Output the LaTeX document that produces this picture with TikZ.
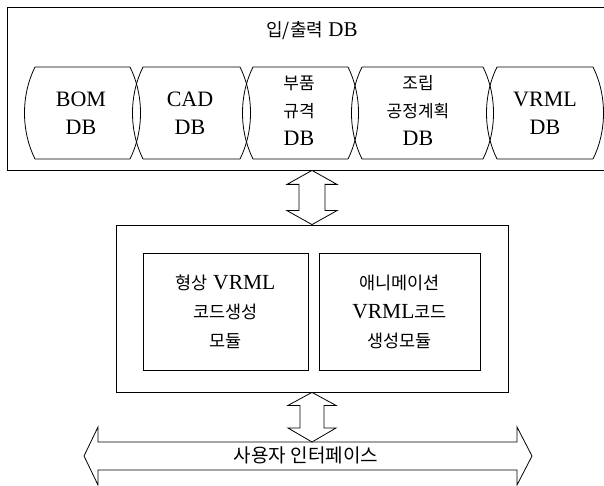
\documentclass[tikz,border=0pt]{standalone}
\usepackage{fontspec}
\setmainfont{Liberation Serif}
\newfontfamily\krf{Noto Sans CJK KR}
\newcommand{\kr}[1]{{\krf\fontsize{17}{28}\selectfont #1}}
\newcommand{\krb}[1]{{\krf\fontsize{17.5}{29}\selectfont #1}}
\usetikzlibrary{calc}
\newcommand{\drumshape}[2]{\draw[drum] (#1,67) -- (#2,67) .. controls (#2+14,95) and (#2+14,131) .. (#2,159) -- (#1,159) .. controls (#1-14,131) and (#1-14,95) .. (#1,67) -- cycle;}
\begin{document}
\begin{tikzpicture}[x=1pt,y=-1pt, line width=0.8pt,
  lat/.style={font=\fontsize{22}{28}\selectfont, align=center, inner sep=0pt},
  latb/.style={font=\fontsize{21.5}{29}\selectfont, align=center, inner sep=0pt},
  drum/.style={draw, line join=round},
  boxn/.style={draw, inner sep=0pt},
  blk/.style={draw, fill=white, line join=miter}]
\useasboundingbox (0,0) rectangle (604,486);
\fill[white] (0,0) rectangle (604,486);
% top container
\node[boxn, minimum width=605pt, minimum height=163pt] (iodb) at (309.5,88.5) {};
\node[lat, font=\fontsize{21}{24}\selectfont] (title) at (312,31) {{\krf\fontsize{18}{24}\selectfont 입/출력} DB};
% drums
\drumshape{35}{130}
\drumshape{143}{240}
\drumshape{253}{348}
\drumshape{362}{483}
\drumshape{497}{593}
\node[lat] (bom) at (81,113) {BOM\\DB};
\node[lat] (cad) at (190,113) {CAD\\DB};
\node[lat] (part) at (299,111) {\kr{부품}\\\kr{규격}\\DB};
\node[lat] (asm) at (418,111) {\kr{조립}\\\kr{공정계획}\\DB};
\node[lat] (vrml) at (545,113) {VRML\\DB};
% middle container
\node[boxn, minimum width=392pt, minimum height=167pt] (mid) at (312,308.5) {};
\node[boxn, latb, minimum width=165pt, minimum height=117pt] (shape) at (225.5,311.5) {\krb{형상} VRML\\\krb{코드생성}\\\krb{모듈}};
\node[boxn, latb, minimum width=161pt, minimum height=117pt] (anim) at (399.5,311.5) {\krb{애니메이션}\\VRML\krb{코드}\\\krb{생성모듈}};
% user interface arrow
\coordinate (uitop) at (312,442);
\draw[blk] (84,456) -- (98,427) -- (98,442) -- (517,442) -- (517,427) -- (532,456) -- (517,485) -- (517,470) -- (98,470) -- (98,485) -- cycle;
\node[inner sep=0pt] (ui) at (306,455) {\krf\fontsize{19}{20}\selectfont 사용자 인터페이스};
% vertical double block arrows
\draw[blk] (mid.north |- iodb.south) -- ++(25,14) -- ++(-12,0) -- ($(mid.north)+(13,-14)$) -- ++(12,0) -- (mid.north) -- ++(-25,-14) -- ++(12,0) -- ($(mid.north |- iodb.south)+(-13,14)$) -- ++(-12,0) -- cycle;
\draw[blk] (mid.south) -- ++(24,13) -- ++(-12,0) -- ($(uitop)+(12,-14)$) -- ++(12,0) -- (uitop) -- ++(-24,-14) -- ++(12,0) -- ($(mid.south)+(-12,13)$) -- ++(-12,0) -- cycle;
\end{tikzpicture}
\end{document}
